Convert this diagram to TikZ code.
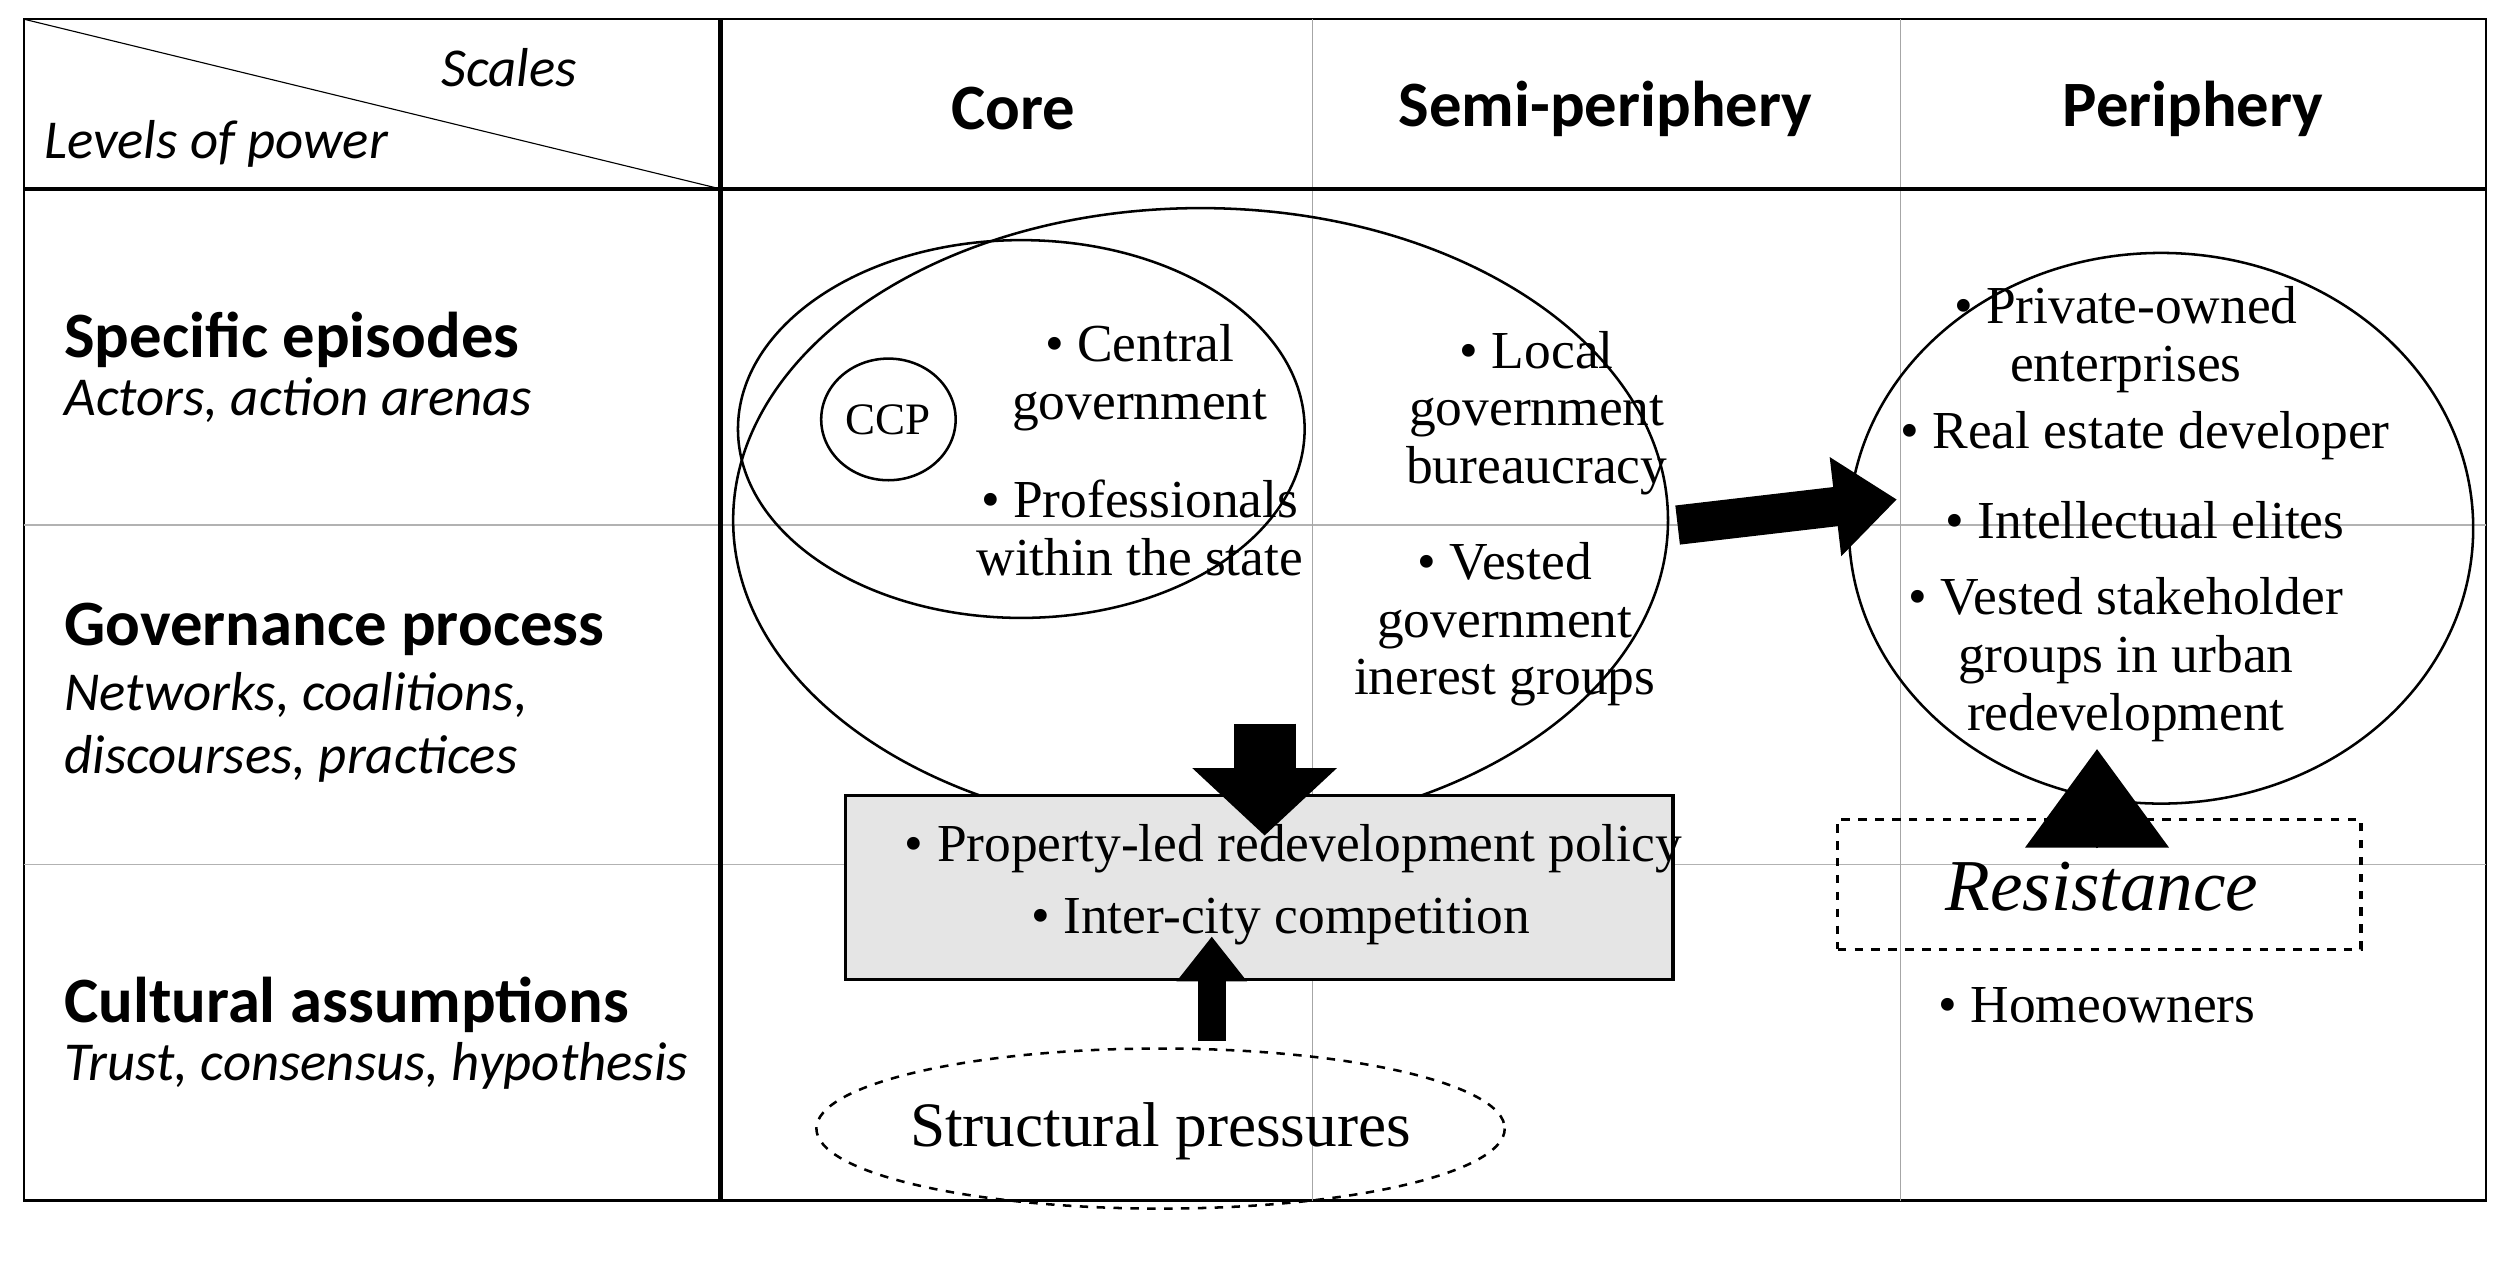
\documentclass[tikz,border=0pt]{standalone}
\usepackage{fontspec}
\setmainfont{Liberation Serif}
\newfontfamily\carl{Carlito}
\usetikzlibrary{arrows.meta}
\begin{document}
\begin{tikzpicture}[x=0.02cm,y=-0.02cm,
 hd/.style={font=\carl\bfseries\fontsize{23}{26}\selectfont},
 it/.style={font=\carl\itshape\fontsize{19.5}{22}\selectfont,anchor=west},
 bd/.style={font=\carl\bfseries\fontsize{23}{26}\selectfont,anchor=west},
 tx/.style={font=\fontsize{19}{20.5}\selectfont,align=center,inner sep=0pt},
 big/.style={line width=14pt,-{Triangle[length=22pt,width=34pt]}}]
\useasboundingbox (0,0) rectangle (1568,788);
\draw[line width=0.8pt] (15,12) rectangle (1553,750);
\draw[gray!60] (15,328) -- (1553,328) (15,540) -- (1553,540);
\draw[gray!70] (820,12) -- (820,750) (1187,12) -- (1187,750);
\draw[line width=1.6pt] (450,12) -- (450,750) (15,118) -- (1553,118);
\draw (15,12) -- (450,118);
\node[font=\carl\itshape\fontsize{19.5}{22}\selectfont] (sc) at (318,42) {Scales};
\node[font=\carl\itshape\fontsize{19.5}{22}\selectfont] (lp) at (135,90) {Levels of power};
\node[hd] (c1) at (633,68) {Core};
\node[hd] (c2) at (1003,68) {Semi-periphery};
\node[hd] (c3) at (1370,68) {Periphery};
\node[bd] (r1) at (34,212) {Specific episodes};
\node[it] (r1a) at (34,250) {Actors, action arenas};
\node[bd] (r2) at (34,393) {Governance process};
\node[it] (r2a) at (34,434) {Networks, coalitions,};
\node[it] (r2b) at (34,474) {discourses, practices};
\node[bd] (r3) at (34,628) {Cultural assumptions};
\node[it] (r3a) at (34,666) {Trust, consensus, hypothesis};
% ellipses
\draw[line width=0.9pt] (750,325) ellipse [x radius=292, y radius=195];
\draw[line width=0.9pt] (638,268) ellipse [x radius=177, y radius=118];
\draw[line width=0.9pt] (555,262) ellipse [x radius=42, y radius=38];
\draw[line width=0.9pt] (1350,330) ellipse [x radius=195, y radius=172];
\node[tx,font=\fontsize{16}{18}\selectfont] (ccp) at (555,262) {CCP};
\node[tx] (cg) at (712,236) {\textbullet{} Central\\government};
\node[tx] (pr) at (712,330) {\textbullet{} Professionals\\within the state};
\node[tx] (lg) at (960,258) {\textbullet{} Local\\government\\bureaucracy};
\node[tx] (vg) at (940,390) {\textbullet{} Vested\\government\\inerest groups};
\node[tx] (po) at (1328,212) {\textbullet{} Private-owned\\enterprises};
\node[tx] (re) at (1340,272) {\textbullet{} Real estate developer};
\node[tx] (ie) at (1340,325) {\textbullet{} Intellectual elites};
\node[tx] (vs) at (1328,412) {\textbullet{} Vested stakeholder\\groups in urban\\redevelopment};
% boxes
\node[draw,line width=1.2pt,fill=gray!20,minimum width=517*0.02cm,minimum height=115*0.02cm] (pol) at (786.5,554.5) {};
\node[tx] (p1) at (808,530) {\textbullet{} Property-led redevelopment policy};
\node[tx] (p2) at (800,576) {\textbullet{} Inter-city competition};
\node[draw,dashed,line width=1.2pt,minimum width=327*0.02cm,minimum height=81*0.02cm] (res) at (1311.5,552.5) {};
\node[font=\itshape\fontsize{26}{30}\selectfont] (rest) at (1313,554) {Resistance};
\node[tx] (ho) at (1310,628) {\textbullet{} Homeowners};
\draw[dashed,line width=0.9pt] (725,705) ellipse [x radius=215, y radius=50];
\node[tx,font=\fontsize{22.5}{26}\selectfont] (sp) at (725,707) {Structural pressures};
% arrows
\coordinate (a1) at (1048,328); \coordinate (a2) at (1185,312);
\draw[big] (a1) -- (a2);
\coordinate (d1) at (790,452); \coordinate (d2) at (790,522);
\draw[big,line width=22pt,-{Triangle[length=24pt,width=50pt]}] (d1) -- (d2);
\coordinate (u1) at (757,650); \coordinate (u2) at (757,585);
\draw[line width=10pt,-{Triangle[length=16pt,width=24pt]}] (u1) -- (u2);
\coordinate (t1) at (1310,530); \coordinate (t2) at (1310,468);
\draw[line width=1pt,-{Triangle[length=35pt,width=51pt]}] (t1) -- (t2);
\end{tikzpicture}
\end{document}
